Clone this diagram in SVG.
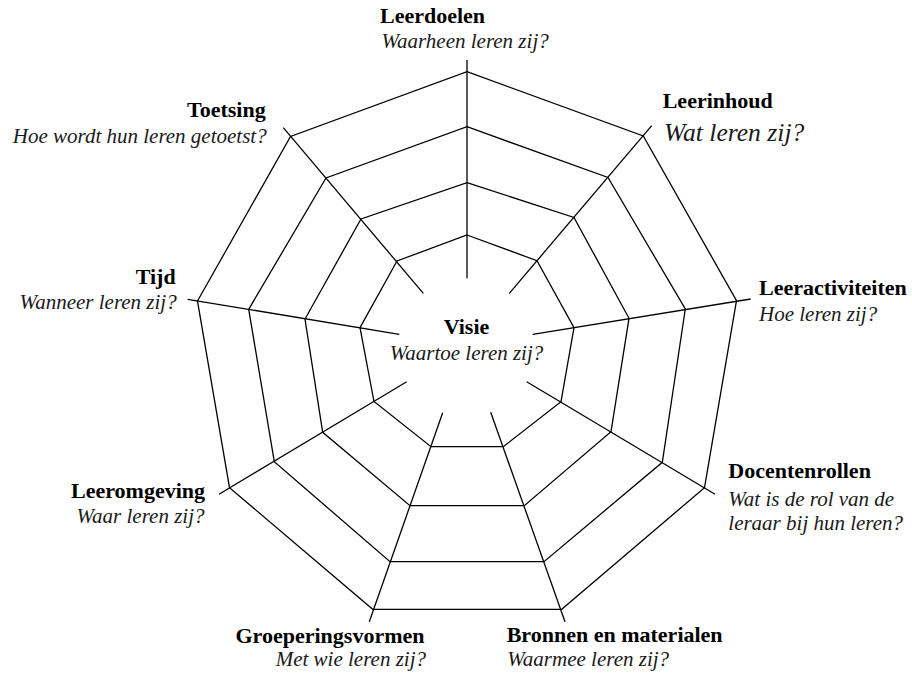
<svg xmlns="http://www.w3.org/2000/svg" width="912" height="673" viewBox="0 0 912 673">
<style>
.ring{fill:none;stroke:#000;stroke-width:1.3;stroke-linejoin:miter}
.spoke{stroke:#000;stroke-width:1.3;fill:none}
.t{font-family:"Liberation Serif","Times New Roman",serif;fill:#000}
.b{font-weight:bold;font-size:22px}
.i{font-style:italic;font-size:21px;fill:#1a1a1a}
.big{font-size:25.6px}
.e{text-anchor:end}
.m{text-anchor:middle}
</style>
<rect width="912" height="673" fill="#fff"/>
<g id="rings">
<polygon class="ring" points="467,71.7 643.3,136 736.5,300.7 704.5,487.7 561.7,609.3 372.7,609.3 229.5,487.7 197.5,301 290.5,136.5"/>
<polygon class="ring" points="467,126.7 608,177.5 685.3,309 662.3,462.3 544,561.7 390,561.7 274.3,461.7 248.7,309.3 326,178"/>
<polygon class="ring" points="467,182.7 574,217.5 629,318.3 611,431.7 524.3,505.7 410,505.7 322.7,432.3 305,319 361,219"/>
<polygon class="ring" points="467,235 537,260.7 574,327.7 561,401.7 503.3,446.7 431,446.7 374,401.5 360,327.7 397,261"/>
</g>
<g id="connectors">
<line class="spoke" x1="467" y1="278.3" x2="467" y2="60"/>
<line class="spoke" x1="509.3" y1="293.3" x2="651.7" y2="125.7"/>
<line class="spoke" x1="532.7" y1="334.3" x2="750.7" y2="299"/>
<line class="spoke" x1="526.7" y1="381.7" x2="715" y2="494.3"/>
<line class="spoke" x1="490.7" y1="412.3" x2="565" y2="621.7"/>
<line class="spoke" x1="442.7" y1="412.7" x2="369.3" y2="621.7"/>
<line class="spoke" x1="406.7" y1="381.7" x2="219" y2="494.3"/>
<line class="spoke" x1="399.3" y1="334.3" x2="187.7" y2="299.3"/>
<line class="spoke" x1="423.3" y1="293.3" x2="283.3" y2="127.7"/>
</g>
<g id="visie">
<text class="t b m" x="466.5" y="334.3">Visie</text>
<text class="t i m" x="466.5" y="360">Waartoe leren zij?</text>
</g>
<g id="leerdoelen">
<text class="t b" x="380" y="23.3">Leerdoelen</text>
<text class="t i" x="381.5" y="48.3">Waarheen leren zij?</text>
</g>
<g id="leerinhoud">
<text class="t b" x="662.7" y="108.3">Leerinhoud</text>
<text class="t i big" x="664" y="141">Wat leren zij?</text>
</g>
<g id="leeractiviteiten">
<text class="t b" x="759" y="295">Leeractiviteiten</text>
<text class="t i" x="759" y="320.7">Hoe leren zij?</text>
</g>
<g id="docentenrollen">
<text class="t b" x="728.3" y="478.3">Docentenrollen</text>
<text class="t i" x="728.3" y="505.7">Wat is de rol van de</text>
<text class="t i" x="728.3" y="530">leraar bij hun leren?</text>
</g>
<g id="bronnen">
<text class="t b" x="506.7" y="641.7">Bronnen en materialen</text>
<text class="t i" x="507.3" y="666">Waarmee leren zij?</text>
</g>
<g id="groeperingsvormen">
<text class="t b e" x="424.5" y="642.7">Groeperingsvormen</text>
<text class="t i e" x="426" y="666">Met wie leren zij?</text>
</g>
<g id="leeromgeving">
<text class="t b e" x="205" y="497.7">Leeromgeving</text>
<text class="t i e" x="204.5" y="523.3">Waar leren zij?</text>
</g>
<g id="tijd">
<text class="t b e" x="175.7" y="284">Tijd</text>
<text class="t i e" x="176.7" y="309.3">Wanneer leren zij?</text>
</g>
<g id="toetsing">
<text class="t b e" x="265.7" y="116.7">Toetsing</text>
<text class="t i e" x="266.7" y="142.7">Hoe wordt hun leren getoetst?</text>
</g>
</svg>
